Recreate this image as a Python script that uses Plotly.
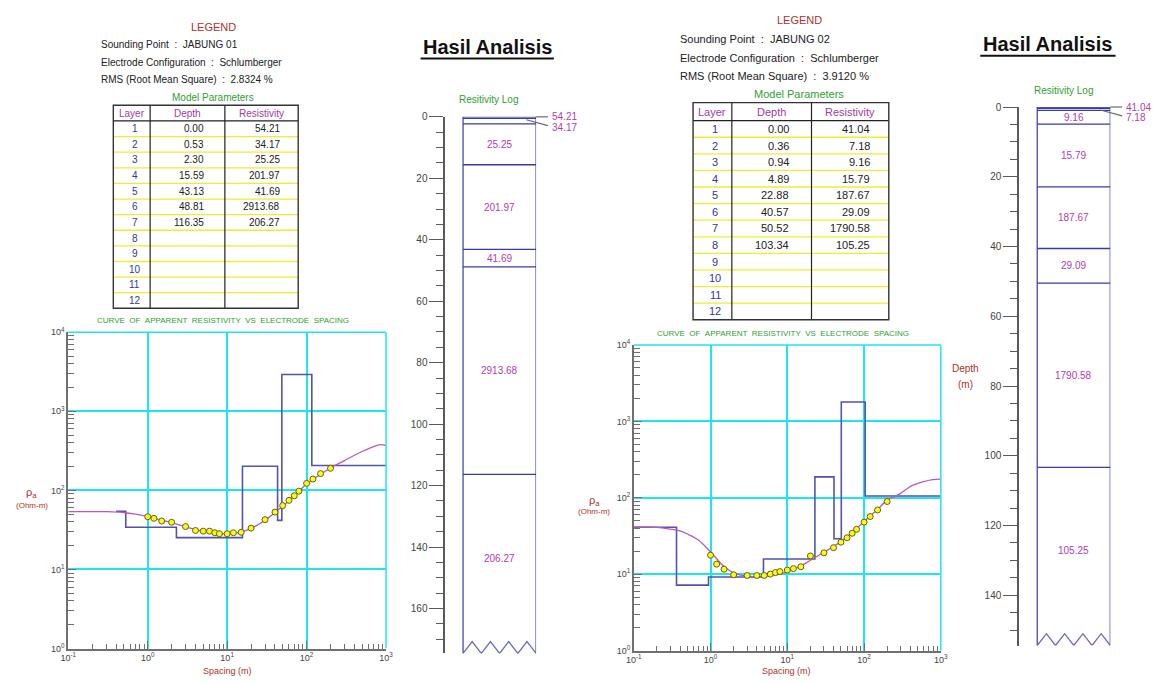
import plotly.graph_objects as go

W, H = 1163, 684
FONT = "Liberation Sans, Arial, sans-serif"

# ---------------- data ----------------
title_text = "Hasil Analisis"
curve_title = "CURVE OF APPARENT RESISTIVITY VS ELECTRODE SPACING"
log_title = "Resitivity Log"
config_name = "Schlumberger"
table_layers = list(range(1, 13))
table_headers = ["Layer", "Depth", "Resistivity"]

x_ticks = [0.1, 1, 10, 100, 1000]
x_tick_text = ["10<sup>-1</sup>", "10<sup>0</sup>", "10<sup>1</sup>", "10<sup>2</sup>", "10<sup>3</sup>"]
y_ticks = [1, 10, 100, 1000, 10000]
y_tick_text = ["10<sup>0</sup>", "10<sup>1</sup>", "10<sup>2</sup>", "10<sup>3</sup>", "10<sup>4</sup>"]

# sounding 1
point_1 = "JABUNG 01"
rms_1 = "2.8324"
depth_1 = [0.00, 0.53, 2.30, 15.59, 43.13, 48.81, 116.35]
res_1 = [54.21, 34.17, 25.25, 201.97, 41.69, 2913.68, 206.27]
model_start_1 = 0.4
obs_ab2 = [1, 1.2, 1.5, 2, 3, 4, 5, 6, 7, 8, 10, 12, 15, 20, 30, 40, 50, 60, 70, 80, 100, 120, 150, 200]
obs_rho_1 = [46.4, 44.3, 41.0, 39.5, 34.9, 31.1, 30.5, 30.5, 29.1, 28.3, 28.3, 29.1, 29.5, 33.3,
             42.6, 53.1, 64.2, 74.8, 85.5, 97.7, 122.7, 139, 163, 190]
calc_ab2_1 = [0.1, 0.2, 0.3, 0.5, 0.7, 1, 1.5, 2, 3, 5, 7, 10, 15, 20, 30, 50, 70, 100, 150, 200,
              300, 400, 500, 700, 850, 1000]
calc_rho_1 = [54, 54, 53.8, 52.5, 50, 46.5, 42, 39.2, 34.5, 30.3, 28.9, 28.2, 29.6, 33, 42, 63, 85,
              120, 160, 192, 238, 278, 310, 358, 378, 368]
depth_ticks_1 = [0, 20, 40, 60, 80, 100, 120, 140, 160]

# sounding 2
point_2 = "JABUNG 02"
rms_2 = "3.9120"
depth_2 = [0.00, 0.36, 0.94, 4.89, 22.88, 40.57, 50.52, 103.34]
res_2 = [41.04, 7.18, 9.16, 15.79, 187.67, 29.09, 1790.58, 105.25]
model_start_2 = 0.1
obs_rho_2 = [17.7, 13.5, 11.6, 9.8, 9.6, 9.6, 9.6, 10.0, 10.5, 10.8, 11.3, 11.8, 12.5, 17.3,
             19.0, 22.2, 26.2, 29.9, 34.3, 38.6, 47.9, 56.7, 69.1, 89.3]
calc_ab2_2 = [0.1, 0.2, 0.3, 0.4, 0.5, 0.7, 1, 1.5, 2, 3, 5, 7, 10, 15, 20, 30, 50, 70, 100, 150,
              200, 260, 300, 400, 580, 780, 1000]
calc_rho_2 = [41.3, 41, 38.8, 36.7, 33.5, 27.8, 19.5, 12.6, 10.4, 9.4, 9.3, 9.8, 10.7, 12.8, 15.2,
              19.3, 26.8, 35, 49, 70, 93, 105, 114, 140, 161, 173, 175]
depth_ticks_2 = [0, 20, 40, 60, 80, 100, 120, 140]

# ---------------- styles / layout ----------------
RED = "#b0302c"
GREEN = "#2f9f2f"
PURPLE = "#a23ca2"
BLUE = "#3434a4"
BLACK = "#222222"
YELLOW = "#eeee30"
CYAN = "#1ee6f0"
AXC = "#707070"
STEP = "#5252b0"
CURVE = "#b95ab9"
BOXC = "#5656b8"
LOGTXT = "#b03cb0"

P1 = dict(leg_xc=208, leg_y=20.7, text_x=91.7, line_y=[38.3, 56, 74], mp_xc=207.7, mp_y=91.7,
          tl=106.7, c1=144, c2=219.7, tr=294, tt=100, th=116, tb=306.7,
          num_xc=128.3, depth_rx=201, res_rx=278, fs=10, leg_fs=11,
          curve=(61, 383, 331, 653), ct=(217.8, 319), ct_fs=8,
          rho=(24, 495, 507), spc=(222, 676),
          ax_x=443, box_l=461, right=535, top=111.8, scale=3.128, dmax=174.6,
          lt=(486.7, 94.5), hasil=(485.5, 40.5, 418, 553, 52.5), lfs=10)
P2 = dict(leg_xc=801.7, leg_y=13.3, text_x=678.3, line_y=[32.7, 51.7, 70.7], mp_xc=801.7, mp_y=89,
          tl=694, c1=733.3, c2=814, tr=892.3, tt=97.3, th=115.7, tb=318.3,
          num_xc=716.7, depth_rx=793.7, res_rx=875.3, fs=11, leg_fs=11,
          curve=(634, 945, 344, 655), ct=(785.5, 332.3), ct_fs=8,
          rho=(594, 502.7, 513.5), spc=(789, 676),
          ax_x=1024.3, box_l=1042.7, right=1116.7, top=101.8, scale=3.55, dmax=154.4,
          lt=(1069.3, 84.5), hasil=(1053.5, 37.5, 985, 1122, 49.5), lfs=10,
          depth_lab=(970, 368, 384))


def X(px):
    return px / W


def Y(py):
    return 1 - py / H


fig = go.Figure()
shapes = []
ann = []


def txt(x, y, s, size, color, xanchor="center", yanchor="middle"):
    ann.append(dict(x=X(x), y=Y(y), xref="paper", yref="paper", text=s, showarrow=False,
                    xanchor=xanchor, yanchor=yanchor,
                    font=dict(size=size, color=color, family=FONT)))


def pline(x0, y0, x1, y1, color, width=1.0):
    shapes.append(dict(type="line", xref="paper", yref="paper", x0=X(x0), y0=Y(y0),
                       x1=X(x1), y1=Y(y1), line=dict(color=color, width=width)))


def legend_panel(P, point, rms, depths, res):
    fs = P["fs"]
    txt(P["leg_xc"], P["leg_y"], "LEGEND", P["leg_fs"], RED)
    lines = [f"Sounding Point  :  {point}",
             f"Electrode Configuration  :  {config_name}",
             f"RMS (Root Mean Square)  :  {rms} %"]
    for yy, s in zip(P["line_y"], lines):
        txt(P["text_x"], yy, s, fs, BLACK, xanchor="left")
    txt(P["mp_xc"], P["mp_y"], "Model Parameters", fs, GREEN)
    tl, c1, c2, tr, tt, th, tb = (P[k] for k in ("tl", "c1", "c2", "tr", "tt", "th", "tb"))
    n = len(table_layers)
    rh = (tb - th) / n
    for i in range(1, n):
        pline(tl, th + i * rh, tr, th + i * rh, YELLOW, 1.3)
    pline(tl, th, tr, th, BLACK, 1.2)
    pline(c1, tt, c1, tb, BLACK, 1.2)
    pline(c2, tt, c2, tb, BLACK, 1.2)
    shapes.append(dict(type="rect", xref="paper", yref="paper", x0=X(tl), x1=X(tr), y0=Y(tb), y1=Y(tt),
                       line=dict(color="#333333", width=1.4)))
    hy = (tt + th) / 2
    txt((tl + c1) / 2, hy, table_headers[0], fs, PURPLE)
    txt((c1 + c2) / 2, hy, table_headers[1], fs, PURPLE)
    txt((c2 + tr) / 2, hy, table_headers[2], fs, PURPLE)
    for i, lay in enumerate(table_layers):
        yy = th + (i + 0.5) * rh
        txt(P["num_xc"], yy, str(lay), fs, BLUE)
        if i < len(depths):
            txt(P["depth_rx"], yy, f"{depths[i]:.2f}", fs, BLACK, xanchor="right")
            txt(P["res_rx"], yy, f"{res[i]:.2f}", fs, BLACK, xanchor="right")


def axis_names(idx):
    return ("x" if idx == 1 else f"x{idx}"), ("y" if idx == 1 else f"y{idx}")


layout_axes = {}


def curve_panel(P, idx, start, depths, res, cx, cy, ox, oy):
    xa, ya = axis_names(idx)
    sx = [start] + depths[1:] + [x_ticks[-1]]
    sy = res + [res[-1]]
    fig.add_trace(go.Scatter(x=sx, y=sy, xaxis=xa, yaxis=ya, mode="lines",
                             line=dict(shape="hv", color=STEP, width=1.6), hoverinfo="skip"))
    fig.add_trace(go.Scatter(x=cx, y=cy, xaxis=xa, yaxis=ya, mode="lines",
                             line=dict(shape="spline", smoothing=1.0, color=CURVE, width=1.3),
                             hoverinfo="skip"))
    fig.add_trace(go.Scatter(x=ox, y=oy, xaxis=xa, yaxis=ya, mode="markers",
                             marker=dict(size=6, color="#ffff00", line=dict(color="#5f5f30", width=1)),
                             hoverinfo="skip"))
    x0, x1, y0, y1 = P["curve"]
    minor_x = [k * v for v in x_ticks[:-1] for k in range(2, 10)]
    minor_y = [k * v for v in y_ticks[:-1] for k in range(2, 10)]
    common = dict(type="log", showline=True, linecolor=AXC, linewidth=1.6, ticks="inside",
                  ticklen=8, tickwidth=1, tickcolor=AXC, tickmode="array",
                  tickfont=dict(size=9, color="#444444", family=FONT),
                  showgrid=True, gridcolor=CYAN, gridwidth=1.5, zeroline=False, fixedrange=True)
    layout_axes["xaxis" + ("" if idx == 1 else str(idx))] = dict(
        common, range=[-1, 3], domain=[X(x0), X(x1)], anchor=ya,
        tickvals=x_ticks, ticktext=x_tick_text,
        minor=dict(tickmode="array", tickvals=minor_x, ticks="inside", ticklen=5,
                   tickcolor=AXC, showgrid=False))
    layout_axes["yaxis" + ("" if idx == 1 else str(idx))] = dict(
        common, range=[0, 4], domain=[Y(y1), Y(y0)], anchor=xa,
        tickvals=y_ticks, ticktext=y_tick_text,
        minor=dict(tickmode="array", tickvals=minor_y, ticks="inside", ticklen=6,
                   tickcolor=AXC, showgrid=False))
    shapes.append(dict(type="line", xref=f"{xa} domain", yref=f"{ya} domain", x0=0, x1=1, y0=1, y1=1,
                       line=dict(color=CYAN, width=1.5)))
    shapes.append(dict(type="line", xref=f"{xa} domain", yref=f"{ya} domain", x0=1, x1=1, y0=0, y1=1,
                       line=dict(color=CYAN, width=1.5)))
    txt(P["ct"][0], P["ct"][1], curve_title.replace(" ", "&nbsp;&nbsp;"), P["ct_fs"], GREEN)
    txt(P["rho"][0], P["rho"][1], "ρ<sub>a</sub>", 11, RED)
    txt(P["rho"][0], P["rho"][2], "(Ohm-m)", 8, RED)
    txt(P["spc"][0], P["spc"][1], "Spacing (m)", 9, RED)


def log_panel(P, idx, depths, res, dticks):
    xa, ya = axis_names(idx)
    ax, right, top, sc, dmax = P["ax_x"], P["right"], P["top"], P["scale"], P["dmax"]
    span = right - ax

    def fx(px):
        return (px - ax) / span

    BL = fx(P["box_l"])
    zig = dmax - 12 / sc
    layout_axes["xaxis" + str(idx)] = dict(domain=[X(ax), X(right)], range=[0, 1], visible=False,
                                           anchor=ya, fixedrange=True)
    layout_axes["yaxis" + str(idx)] = dict(
        domain=[Y(top + dmax * sc), Y(top)], range=[dmax, 0], anchor=xa, showline=True,
        linecolor="#5a5a5a", linewidth=1.6, ticks="outside", ticklen=14, tickwidth=1.2,
        tickcolor="#5a5a5a", tickmode="array", tickvals=dticks,
        tickfont=dict(size=P["lfs"], color="#444444", family=FONT),
        minor=dict(dtick=5, tick0=0, ticks="outside", ticklen=7, tickwidth=1.2, tickcolor="#5a5a5a"),
        showgrid=False, zeroline=False, fixedrange=True)
    for xv in (BL, 1):
        shapes.append(dict(type="line", xref=xa, yref=ya, x0=xv, x1=xv, y0=0, y1=dmax,
                           line=dict(color=BOXC, width=1.4)))
    for d in depths:
        shapes.append(dict(type="line", xref=xa, yref=ya, x0=BL, x1=1, y0=d, y1=d,
                           line=dict(color="#3a3aa6", width=1.3)))
    zx = [BL + (1 - BL) * k / 8 for k in range(9)]
    zy = [dmax if k % 2 == 0 else zig for k in range(9)]
    fig.add_trace(go.Scatter(x=zx, y=zy, xaxis=xa, yaxis=ya, mode="lines",
                             line=dict(color="#6a6ac4", width=1.3), hoverinfo="skip"))
    bounds = depths[1:] + [zig]
    thin = 0
    for t, b, r in zip(depths, bounds, res):
        label = f"{r:.2f}"
        if b - t >= 3:
            ann.append(dict(x=(BL + 1) / 2, y=(t + b) / 2, xref=xa, yref=ya, text=label,
                            showarrow=False, font=dict(size=P["lfs"], color=LOGTXT, family=FONT)))
        else:
            if thin == 0:
                pline(right, top, right + 12, top, "#6a6a6a", 1.2)
                ly = top
            else:
                pline(right - 10, top + 3, right + 12, top + 9, "#6a6a6a", 1.2)
                ly = top + 10.5
            txt(right + 14, ly, label, P["lfs"], LOGTXT, xanchor="left")
            thin += 1
    txt(P["lt"][0], P["lt"][1], log_title, P["lfs"], GREEN)
    hx, hy, ux0, ux1, uy = P["hasil"]
    txt(hx, hy, f"<b>{title_text}</b>", 20, "#111111")
    pline(ux0, uy, ux1, uy, "#111111", 2)


legend_panel(P1, point_1, rms_1, depth_1, res_1)
legend_panel(P2, point_2, rms_2, depth_2, res_2)
curve_panel(P1, 1, model_start_1, depth_1, res_1, calc_ab2_1, calc_rho_1, obs_ab2, obs_rho_1)
log_panel(P1, 2, depth_1, res_1, depth_ticks_1)
curve_panel(P2, 3, model_start_2, depth_2, res_2, calc_ab2_2, calc_rho_2, obs_ab2, obs_rho_2)
log_panel(P2, 4, depth_2, res_2, depth_ticks_2)
dl = P2["depth_lab"]
txt(dl[0], dl[1], "Depth", 10, RED)
txt(dl[0], dl[2], "(m)", 10, RED)

fig.update_layout(width=W, height=H, margin=dict(l=0, r=0, t=0, b=0), showlegend=False,
                  paper_bgcolor="white", plot_bgcolor="white", shapes=shapes, annotations=ann,
                  font=dict(family=FONT), **layout_axes)
fig.write_html("out.html", config={"displayModeBar": False},
               post_script="document.body.style.margin='0';document.body.style.overflow='hidden';")
